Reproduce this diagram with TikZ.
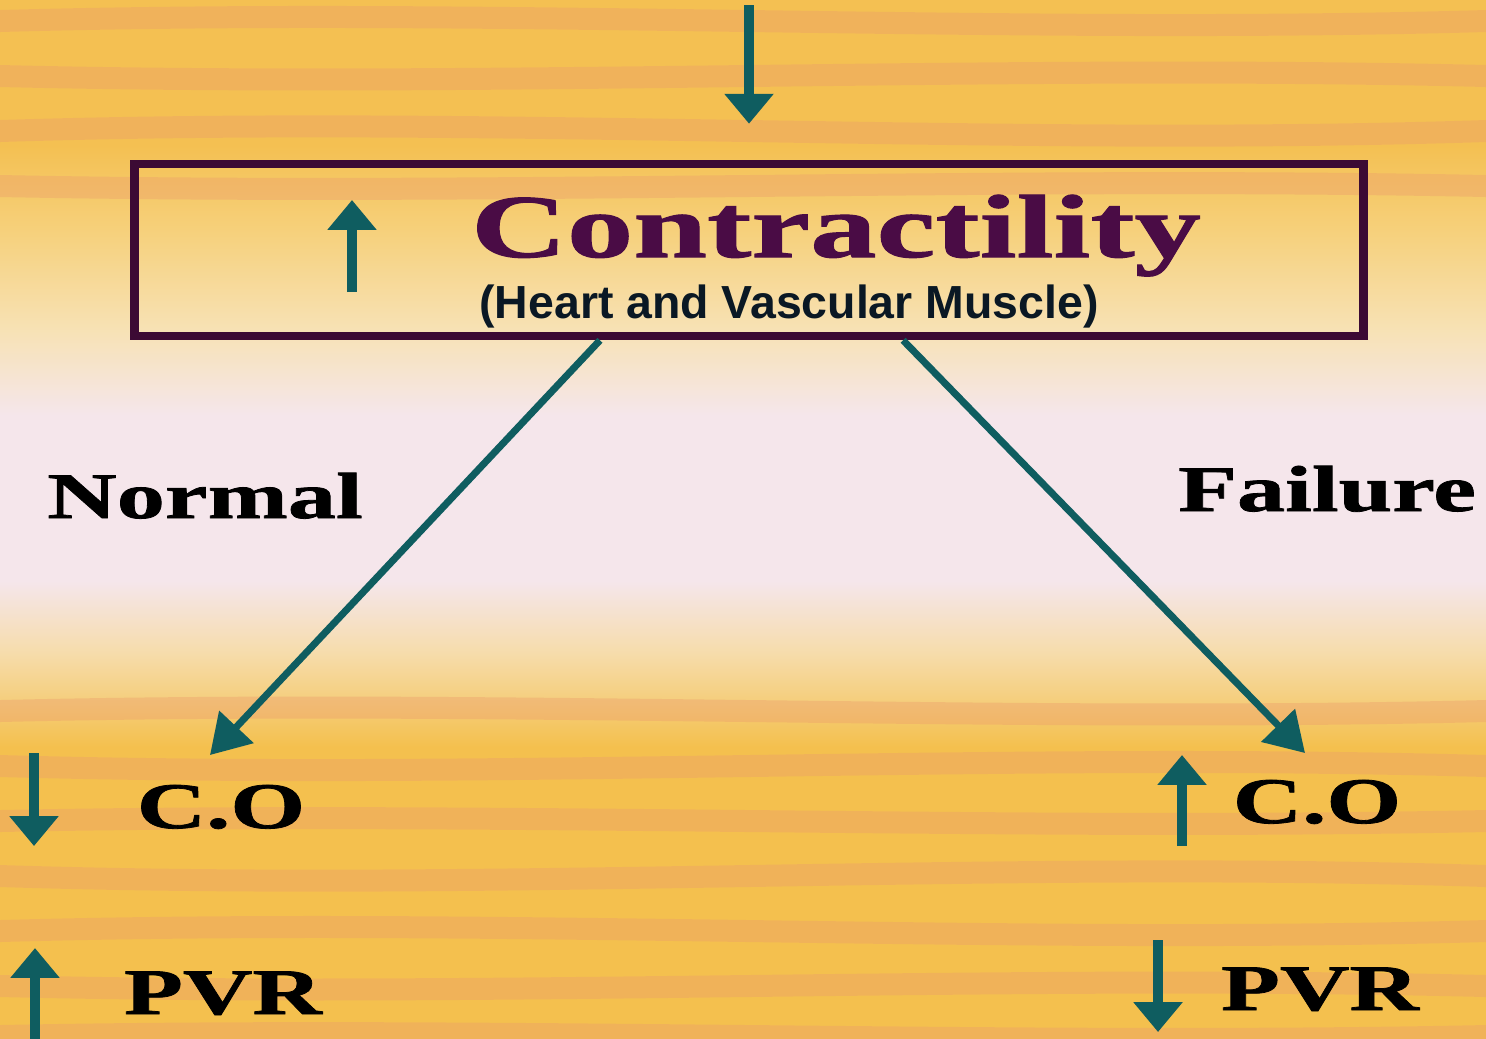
\documentclass[tikz,border=0pt]{standalone}
\usepackage{fontspec}
\setmainfont{Liberation Serif}
\newfontfamily\widefont[FakeStretch=1.48,FakeBold=1.2]{Liberation Serif}
\newfontfamily\subfont{Liberation Sans}
\usepackage{xcolor}
\usepackage{tikz}
\usetikzlibrary{arrows.meta,positioning}
\definecolor{teal}{HTML}{0f5d60}
\definecolor{boxc}{HTML}{3c0a34}
\definecolor{titlec}{HTML}{4a0c45}
\definecolor{subc}{HTML}{0a1824}
\definecolor{bgtop}{HTML}{f4c052}
\definecolor{bgup}{HTML}{f6d07a}
\definecolor{bgmid}{HTML}{f7e2b6}
\definecolor{bgpale}{HTML}{f5e6eb}
\definecolor{bglow}{HTML}{f6dcaa}
\definecolor{bgbot}{HTML}{f4c04e}
\definecolor{streak}{HTML}{ec9c6c}
\pgfdeclareverticalshading{bgshade}{100bp}{
  color(0bp)=(bgbot); color(25bp)=(bgbot); color(39bp)=(bgbot);
  color(43.5bp)=(bglow); color(47bp)=(bgpale); color(55bp)=(bgpale);
  color(59bp)=(bgmid); color(64bp)=(bgup); color(68bp)=(bgtop);
  color(100bp)=(bgtop)}

\begin{document}
\begin{tikzpicture}[x=0.01cm,y=-0.01cm,
    lbl/.style={font=\widefont\bfseries\fontsize{18.5}{22}\selectfont,
                text=black, anchor=base, inner sep=0pt},
    flow/.style={draw=teal, line width=2.7pt,
                 -{Triangle[width=13.5pt,length=8.5pt]}},
    link/.style={draw=teal, line width=2pt,
                 -{Triangle[width=13pt,length=11pt]}},
    band/.style={fill=streak, opacity=0.38},
]
\useasboundingbox (0,0) rectangle (1486,1038);
\fill[shading=bgshade] (0,0) rectangle (1486,1038);
\foreach \y/\w in {10/14,65/-12,120/16,175/-10,700/12,755/-14,810/10,
                   865/-16,920/14,975/-12,1025/10}
  \fill[band] (0,\y) .. controls (500,\y-\w) and (1000,\y+\w) .. (1486,\y)
    -- (1486,\y+22) .. controls (1000,\y+22+\w) and (500,\y+22-\w) .. (0,\y+22) -- cycle;

\node[draw=boxc, line width=2.4pt, minimum width=12.28cm, minimum height=1.72cm,
      inner sep=0pt] (box) at (749,250) {};
\node[font=\widefont\bfseries\fontsize{25.5}{30}\selectfont, text=titlec,
      anchor=base, inner sep=0pt] (title) at (836,257) {Contractility};
\node[font=\subfont\bfseries\fontsize{13.2}{16}\selectfont, text=subc,
      anchor=base, inner sep=0pt] (sub) at (789,318) {(Heart and Vascular Muscle)};

\node[lbl] (normal) at (205,518) {Normal};
\node[lbl] (failure) at (1327,511) {Failure};
\node[lbl] (co-l) at (221,828) {C.O};
\node[lbl] (co-r) at (1317,823) {C.O};
\node[lbl] (pvr-l) at (223,1014) {PVR};
\node[lbl] (pvr-r) at (1320,1010) {PVR};

\coordinate (top) at (749,5);
\coordinate (l-end) at (210,755);
\coordinate (r-end) at (1305,753);

\draw[flow] (top) -- ([yshift=0.36cm]box.north);
\draw[link] ([xshift=-1.49cm]box.south) -- (l-end);
\draw[link] ([xshift=1.54cm]box.south) -- (r-end);

\draw[flow] (352,292) -- (352,200);
\draw[flow] (34,753) -- (34,846);
\draw[flow] (1182,846) -- (1182,755);
\draw[flow] (35,1040) -- (35,948);
\draw[flow] (1158,940) -- (1158,1032);
\end{tikzpicture}
\end{document}
